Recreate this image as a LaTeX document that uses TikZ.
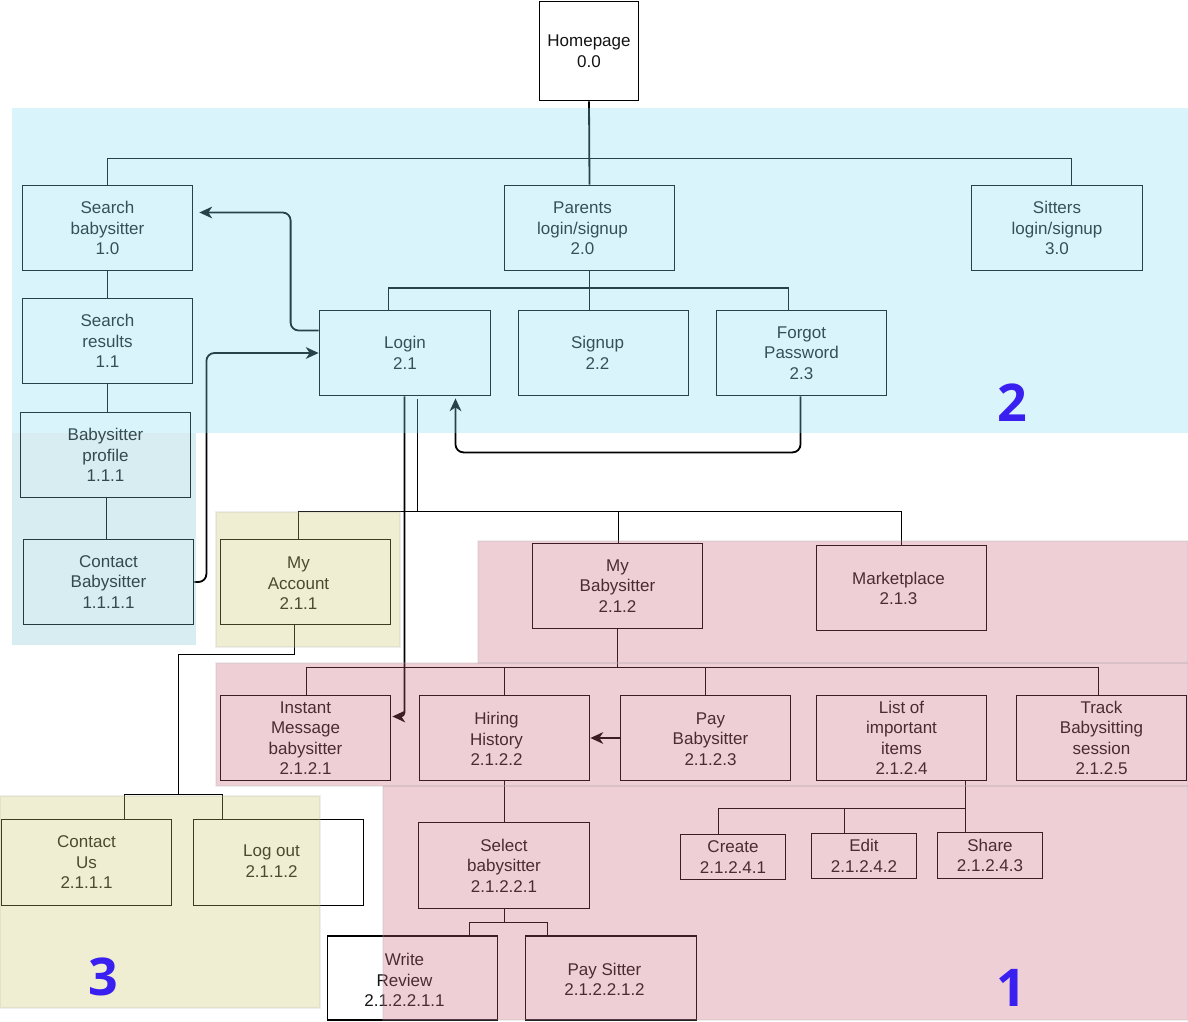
\documentclass[tikz,border=0pt]{standalone}
\usepackage{fontspec}
\setmainfont{Liberation Sans}
\newfontfamily\numfont{Open Sans}
\definecolor{txtc}{RGB}{20,20,20}
\definecolor{blueT}{RGB}{132,225,242}
\definecolor{blueTb}{RGB}{125,198,212}
\definecolor{pinkT}{RGB}{205,98,122}
\definecolor{yelT}{RGB}{205,202,108}
\definecolor{numc}{RGB}{58,32,240}
\begin{document}
\begin{tikzpicture}[x=1pt,y=-1pt,
  box/.style={draw=black, line width=1.8pt, inner sep=0pt, minimum width=170pt, minimum height=85pt,
    align=center, text=txtc, font=\fontsize{17}{20.5}\selectfont},
  sbox/.style={box, minimum width=105pt, minimum height=45pt},
  lbl/.style={inner sep=0pt, align=center, text=txtc, font=\fontsize{17}{20.5}\selectfont},
  conn/.style={draw=black, line width=1.8pt},
  rconn/.style={conn, rounded corners=8pt},
  headleft/.pic={\fill[black] (0,0) -- (13,-6) -- (9,0) -- (13,6) -- cycle;},
  headup/.pic={\fill[black] (0,0) -- (-6,13) -- (0,9) -- (6,13) -- cycle;},
  region/.style={fill opacity=0.3, draw=black!30, draw opacity=0.2, line width=1.5pt},
  bignum/.style={text=numc, font=\numfont\bfseries\fontsize{52}{52}\selectfont, inner sep=0pt}
]
\useasboundingbox (0,0) rectangle (1188,1022);
\fill[white] (0,0) rectangle (1188,1022);

\begin{scope}[shift={(0.5,0.5)}]
% ---------- boxes ----------
\node[box, minimum width=99pt, minimum height=99pt] (home) at (588.5,50.5) {Homepage\\0.0};
\node[box] (sb) at (107,227.5) {Search\\babysitter\\1.0};
\node[box] (sr) at (107,340.5) {Search\\results\\1.1};
\node[box] (bp) at (105,454.5) {Babysitter\\profile\\1.1.1};
\node[box] (cb) at (108,581.5) {Contact\\Babysitter\\1.1.1.1};
\node[box] (par) at (589,227.5) {};
\node[lbl] at (582,228) {Parents\\login/signup\\2.0};
\node[box, minimum width=171pt] (sit) at (1056.5,227.5) {Sitters\\login/signup\\3.0};
\node[box, minimum width=171pt] (login) at (404.5,352.5) {Login\\2.1};
\node[box] (signup) at (603,352.5) {};
\node[lbl] at (597,352.5) {Signup\\2.2};
\node[box] (forgot) at (801,352.5) {Forgot\\Password\\2.3};
\node[box] (myacc) at (305,581.5) {};
\node[lbl] at (298,583) {My\\Account\\2.1.1};
\node[box] (mybs) at (617,585.5) {My\\Babysitter\\2.1.2};
\node[box] (market) at (901,587.5) {};
\node[lbl] at (898,588) {Marketplace\\2.1.3};
\node[box] (im) at (305,737.5) {Instant\\Message\\babysitter\\2.1.2.1};
\node[box] (hh) at (504,737.5) {};
\node[lbl] at (496,738.5) {Hiring\\History\\2.1.2.2};
\node[box] (pay) at (705,737.5) {};
\node[lbl] at (710,738.5) {Pay\\Babysitter\\2.1.2.3};
\node[box] (list) at (901,737.5) {List of\\important\\items\\2.1.2.4};
\node[box] (track) at (1101,737.5) {Track\\Babysitting\\session\\2.1.2.5};
\node[sbox] (create) at (732.5,856.5) {Create\\2.1.2.4.1};
\node[sbox] (edit) at (863.5,855.5) {Edit\\2.1.2.4.2};
\node[sbox, minimum height=46pt] (share) at (989.5,855) {Share\\2.1.2.4.3};
\node[box, minimum width=171pt, minimum height=86pt] (select) at (503.5,865) {Select\\babysitter\\2.1.2.2.1};
\node[box, minimum height=84pt] (wr) at (412,977.5) {};
\node[lbl] at (404,979.5) {Write\\Review\\2.1.2.2.1.1};
\node[box, minimum width=171pt, minimum height=84pt] (ps) at (610.5,977.5) {};
\node[lbl] at (604,979) {Pay Sitter\\2.1.2.2.1.2};
\node[box, minimum width=170pt, minimum height=86pt] (cu) at (86,862) {Contact\\Us\\2.1.1.1};
\node[box, minimum height=86pt] (lo) at (278,862) {};
\node[lbl] (lotxt) at (271,860.5) {Log out\\2.1.1.2};

% ---------- connectors ----------
\coordinate (bus1) at (589,158);
\coordinate (bus2) at (417,511);
\coordinate (bus3) at (178,794);
\coordinate (bus4) at (617,667);
\coordinate (bus5) at (504,922);
\coordinate (bus6) at (965,808);
\coordinate (tipSB) at ([xshift=6pt,yshift=15.5pt]sb.east);
\coordinate (tipLW) at (login.west);
\coordinate (tipLS) at ([xshift=50.5pt,yshift=-2pt]login.south);
\coordinate (tipIM) at ([xshift=1pt,yshift=21.5pt]im.east);
\coordinate (tipHH) at (hh.east);

\draw[conn] (home.south) -- (par.north);
\draw[conn] (sb.north) |- (bus1) -| ([xshift=14.5pt]sit.north);
\draw[conn] (sb.south) -- (sr.north);
\draw[conn] (sr.south) -- (sr.south |- bp.north);
\draw[conn] ([xshift=1pt]bp.south) -- ([xshift=1pt]bp.south |- cb.north);

\draw[conn] (par.south) -- (par.south |- signup.north);
\draw[conn] ([xshift=-16.5pt]login.north) -- ++(0,-22) -| ([xshift=-13pt]forgot.north);

\draw[rconn] ([yshift=22.5pt]login.west) -- ++(-28,0) |- ([xshift=5pt]tipSB);
\pic at (tipSB) {headleft};
\draw[rconn] (cb.east) -- ++(12,0) |- ([xshift=-5pt]tipLW);
\pic[rotate=180] at (tipLW) {headleft};
\draw[rconn] ([xshift=-1pt]forgot.south) -- ++(0,56) -| ([yshift=-5pt]tipLS);
\pic at (tipLS) {headup};

\draw[conn, rounded corners=4pt] ([xshift=-0.5pt]login.south) |- ([xshift=5pt]tipIM);
\pic at (tipIM) {headleft};
\draw[conn] ([xshift=12.5pt,yshift=-3pt]login.south) -- (bus2);
\draw[conn] ([xshift=-7pt]myacc.north) |- (bus2) -| (market.north);
\draw[conn] ([xshift=1pt]mybs.north) -- ([xshift=1pt]mybs.north |- bus2);

\draw[conn] ([xshift=-11pt]myacc.south) -- ++(0,29) -| (bus3);
\draw[conn] ([xshift=38pt]cu.north) |- (bus3) -| ([xshift=-56pt]lo.north);

\draw[conn] (mybs.south) -- (bus4);
\draw[conn] ([xshift=1pt]im.north) |- (bus4) -| ([xshift=-3pt]track.north);
\draw[conn] (hh.north) -- (hh.north |- bus4);
\draw[conn] (pay.north) -- (pay.north |- bus4);
\draw[conn] (pay.west) -- ([xshift=5pt]tipHH);
\pic at (tipHH) {headleft};

\draw[conn] (hh.south) -- (hh.south |- select.north);
\draw[conn] ([xshift=0.5pt]select.south) -- (bus5);
\draw[conn] ([xshift=57pt]wr.north) |- (bus5) -| ([xshift=-63.5pt]ps.north);

\draw[conn] ([xshift=64pt]list.south) -- ([xshift=-24.5pt]share.north);
\draw[conn] ([xshift=-14.5pt]create.north) |- (bus6);
\draw[conn] ([xshift=-19.5pt]edit.north) -- ([xshift=-19.5pt]edit.north |- bus6);
\end{scope}

% ---------- translucent regions ----------
\fill[fill=blueT, fill opacity=0.3] (12,108) rectangle (1188,433);
\fill[fill=blueTb, fill opacity=0.3] (12,433) rectangle (196,645);
\path[region, fill=yelT] (216,512) rectangle (400,647);
\path[region, fill=yelT] (0,796) rectangle (320,1008);
\path[region, fill=pinkT] (478,541) rectangle (1188,663);
\path[region, fill=pinkT] (216,663) rectangle (1188,786);
\path[region, fill=pinkT] (383,786) rectangle (1188,1020);

% ---------- region numbers ----------
\node[bignum] (n2) at (1012,403) {2};
\node[bignum] (n3) at (103,977) {3};
\node[bignum] (n1) at (1011,988) {1};
\end{tikzpicture}
\end{document}
